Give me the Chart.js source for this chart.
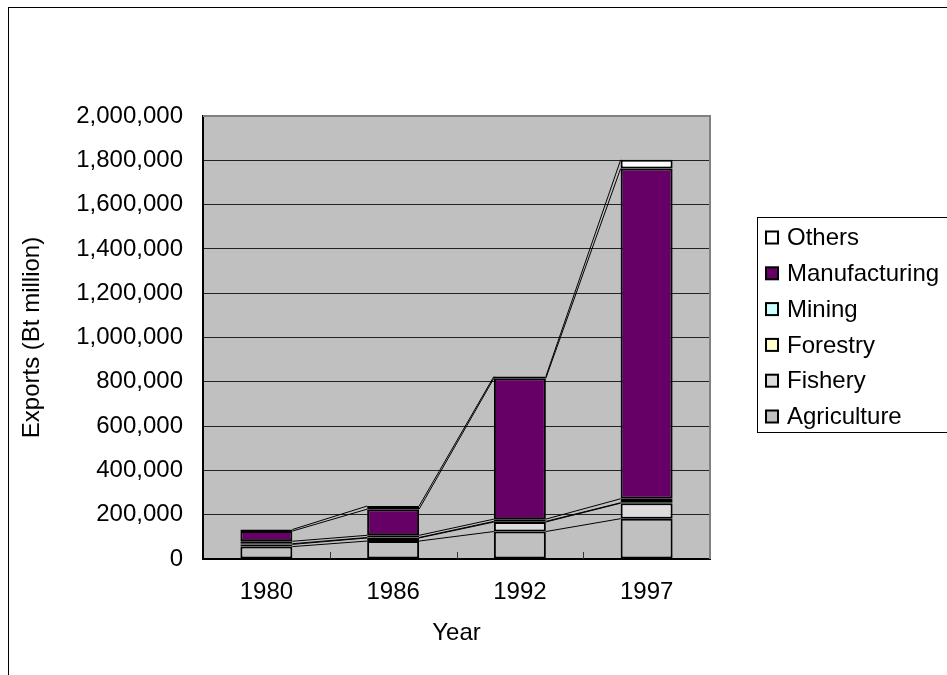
<!DOCTYPE html>
<html lang="en">
<head>
  <meta charset="UTF-8">
  <title>Exports by sector</title>
  <script src="https://cdn.jsdelivr.net/npm/chart.js"></script>
  <style>
    html, body { margin: 0; padding: 0; background: #fff; }
    #wrap { width: 947px; height: 675px; }
  </style>
</head>
<body>
  <div id="wrap"><canvas id="exportsChart" width="947" height="675"></canvas></div>

  <script>
    // values (Bt million)
    const years = ['1980', '1986', '1992', '1997'];
    const agriculture   = [56000, 81000, 124000, 182000];
    const fishery       = [10000, 14000, 43000, 70000];
    const forestry      = [3000, 2000, 3000, 2000];
    const mining        = [11000, 10000, 10000, 18000];
    const manufacturing = [46000, 118000, 636000, 1491000];
    const others        = [7000, 14000, 8000, 39000];
    const seriesNames  = ['Agriculture', 'Fishery', 'Forestry', 'Mining', 'Manufacturing', 'Others'];
    const seriesColors = ['#C0C0C0', '#DDDDDD', '#FFFFCC', '#CCFFFF', '#660066', '#FFFFFF'];

    const FONT = "'Liberation Sans', Arial, sans-serif";
    const FSIZE = 24;
    const allSeries = [agriculture, fishery, forestry, mining, manufacturing, others];

    const datasets = allSeries.map((vals, i) => ({
      label: seriesNames[i],
      data: vals,
      backgroundColor: seriesColors[i],
      borderColor: '#000',
      borderWidth: 2,
      borderSkipped: false,
      barPercentage: 0.41,
      categoryPercentage: 1.0
    }));

    // plot background, frame, outer border, x tick marks, series lines, legend
    const excelLook = {
      id: 'excelLook',
      beforeDraw(chart) {
        const { ctx, chartArea: a } = chart;
        ctx.save();
        ctx.fillStyle = '#C0C0C0';
        ctx.fillRect(a.left, a.top, a.right - a.left, a.bottom - a.top);
        ctx.restore();
      },
      beforeDatasetsDraw(chart) {
        const { ctx, chartArea: a } = chart;
        ctx.save();
        ctx.strokeStyle = '#808080';
        ctx.lineWidth = 2;
        ctx.beginPath();
        ctx.moveTo(a.left, a.top);
        ctx.lineTo(a.right, a.top);
        ctx.lineTo(a.right, a.bottom);
        ctx.stroke();
        // inside tick marks between categories
        const xs = chart.scales.x;
        ctx.strokeStyle = '#333';
        ctx.lineWidth = 1;
        for (let i = 0; i < years.length - 1; i++) {
          const px = Math.round((xs.getPixelForTick(i) + xs.getPixelForTick(i + 1)) / 2) + 0.5;
          ctx.beginPath();
          ctx.moveTo(px, a.bottom);
          ctx.lineTo(px, a.bottom - 7);
          ctx.stroke();
        }
        ctx.restore();
      },
      afterDatasetsDraw(chart) {
        const { ctx } = chart;
        ctx.save();
        ctx.strokeStyle = '#000';
        ctx.lineWidth = 1;
        chart.data.datasets.forEach((ds, d) => {
          const bars = chart.getDatasetMeta(d).data;
          for (let i = 0; i < bars.length - 1; i++) {
            const b0 = bars[i], b1 = bars[i + 1];
            ctx.beginPath();
            ctx.moveTo(b0.x + b0.width / 2, b0.y);
            ctx.lineTo(b1.x - b1.width / 2, b1.y);
            ctx.stroke();
          }
        });
        ctx.restore();
      },
      afterDraw(chart) {
        const { ctx } = chart;
        ctx.save();
        // outer chart border
        ctx.strokeStyle = '#000';
        ctx.lineWidth = 1;
        ctx.strokeRect(8.5, 7.5, 960, 700);
        // legend (reversed order, like the reference)
        const lx = 757, ly = 217, rowH = 35.8;
        ctx.strokeRect(lx + 0.5, ly + 0.5, 300, 215);
        ctx.font = FSIZE + 'px ' + FONT;
        ctx.textBaseline = 'middle';
        ctx.textAlign = 'left';
        const order = chart.data.datasets.slice().reverse();
        order.forEach((ds, k) => {
          const cy = ly + 20.5 + k * rowH;
          ctx.fillStyle = ds.backgroundColor;
          ctx.fillRect(lx + 9, cy - 6, 12, 12);
          ctx.lineWidth = 2;
          ctx.strokeStyle = '#000';
          ctx.strokeRect(lx + 9, cy - 6, 12, 12);
          ctx.fillStyle = '#000';
          ctx.fillText(ds.label, lx + 30, cy + 1);
        });
        ctx.restore();
      }
    };

    new Chart(document.getElementById('exportsChart'), {
      type: 'bar',
      data: { labels: years, datasets: datasets },
      plugins: [excelLook],
      options: {
        responsive: false,
        animation: false,
        events: [],
        layout: { padding: { top: 116, right: 237, left: 0, bottom: 0 } },
        plugins: {
          legend: { display: false },
          tooltip: { enabled: false }
        },
        scales: {
          x: {
            stacked: true,
            afterFit: s => { s.height = 116; },
            grid: { display: false, offset: true },
            border: { display: true, color: '#000', width: 2 },
            ticks: { color: '#000', font: { family: FONT, size: FSIZE }, padding: 11 },
            title: {
              display: true, text: 'Year', color: '#000',
              font: { family: FONT, size: FSIZE }, padding: { top: 0, bottom: 27 }
            }
          },
          y: {
            stacked: true,
            min: 0,
            max: 2000000,
            afterFit: s => { s.width = 203; },
            grid: { color: '#222', lineWidth: 1, drawTicks: false },
            border: { display: true, color: '#000', width: 2 },
            ticks: {
              stepSize: 200000, color: '#000', padding: 20,
              font: { family: FONT, size: FSIZE },
              callback: v => v.toLocaleString('en-US')
            },
            title: {
              display: true, text: 'Exports (Bt million)', color: '#000',
              font: { family: FONT, size: FSIZE }, padding: { top: 18, bottom: 0 }
            }
          }
        }
      }
    });
  </script>
</body>
</html>
